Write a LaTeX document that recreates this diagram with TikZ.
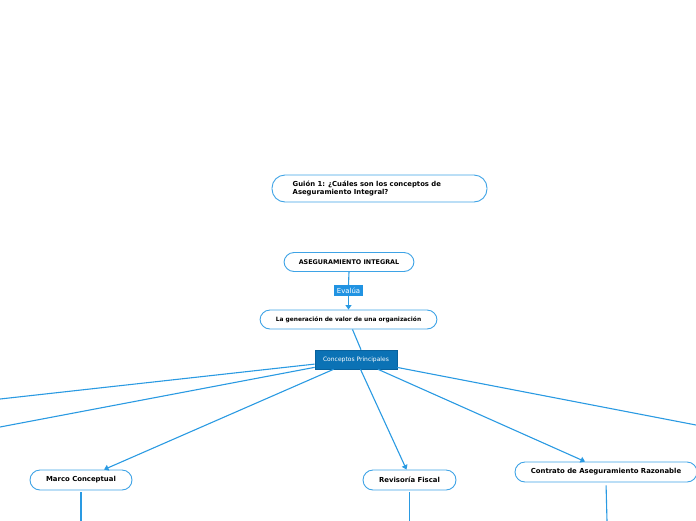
\documentclass[tikz,border=0pt]{standalone}
\usepackage{fontspec}
\setmainfont{DejaVu Sans}
\usetikzlibrary{arrows.meta,calc}
\definecolor{lnc}{HTML}{2A9AE2}
\definecolor{bdc}{HTML}{3EA3E6}
\definecolor{evc}{HTML}{2193E2}
\definecolor{cpc}{HTML}{0B72B5}
\definecolor{cpb}{HTML}{08619C}
\tikzset{
  pill/.style={draw=bdc, line width=0.9pt, rounded corners=10pt, fill=white, inner sep=0pt, align=center,
    font=\fontsize{6.9}{8}\selectfont\bfseries},
  tagbox/.style={fill=evc, text=white, inner sep=0pt, minimum width=29pt, minimum height=11pt,
    font=\fontsize{6.9}{7.5}\selectfont},
  mainbox/.style={fill=cpc, draw=cpb, line width=0.6pt, text=white, inner sep=0pt, minimum width=82pt, minimum height=19pt,
    font=\fontsize{6}{7}\selectfont},
  conn/.style={draw=lnc, line width=1.1pt},
  arr/.style={conn, -{Triangle[width=6pt,length=4.5pt]}}
}
\begin{document}
\begin{tikzpicture}[x=1pt,y=-1pt]
\useasboundingbox (0,0) rectangle (696,520);
\clip (0,0) rectangle (696,520);
% title
\node[pill, rounded corners=13pt, minimum width=215pt, minimum height=27pt] (gt) at (379.5,188.5) {};
\node[anchor=west, align=left, inner sep=0pt, font=\fontsize{6.85}{8.8}\selectfont\bfseries] (gtt) at (292.5,188.5)
  {Guión 1: ¿Cuáles son los conceptos de\\Aseguramiento Integral?};
% main chain
\node[pill, minimum width=130pt, minimum height=19pt, font=\fontsize{6.4}{7.5}\selectfont\bfseries] (ag) at (349,262) {ASEGURAMIENTO INTEGRAL};
\node[tagbox] (ev) at (348.5,290.5) {Evalúa};
\node[pill, minimum width=177pt, minimum height=19pt, font=\fontsize{5.9}{7}\selectfont\bfseries] (lg) at (348.5,319.5) {La generación de valor de una organización};
\node[mainbox] (cp) at (356,359.5) {Conceptos Principales};
\node[pill, minimum width=102pt, minimum height=20pt] (mc) at (81,480) {Marco Conceptual};
\node[pill, minimum width=93pt, minimum height=20pt] (rf) at (409.5,480) {Revisoría Fiscal};
\node[pill, minimum width=182pt, minimum height=20pt] (ca) at (606,472) {Contrato de Aseguramiento Razonable};
% free ends
\coordinate (l1) at (0,399);
\coordinate (l2) at (0,427);
\coordinate (r1) at (696,425);
\coordinate (mcb) at (81,521);
\coordinate (rfb) at (409.5,521);
\coordinate (cab) at (607,521);
% connectors
\draw[conn] (ag.south) -- (ev.north);
\draw[arr] (ev.south) -- (lg.north);
\draw[conn] ($(lg.south)+(4,0)$) -- ($(cp.north)+(5,0)$);
\draw[conn] (cp) -- (l1);
\draw[conn] (cp) -- (l2);
\draw[conn] (cp) -- (r1);
\draw[arr] (cp) -- ($(mc.north)+(23,0)$);
\draw[arr] (cp) -- ($(rf.north)+(-3,0)$);
\draw[arr] (cp) -- ($(ca.north)+(-21,0)$);
\draw[conn, shorten <=2pt] (mc.south) -- (mcb);
\draw[conn, shorten <=2pt] (rf.south) -- (rfb);
\draw[conn, shorten <=3pt] (ca.south) -- (cab);
\end{tikzpicture}
\end{document}
